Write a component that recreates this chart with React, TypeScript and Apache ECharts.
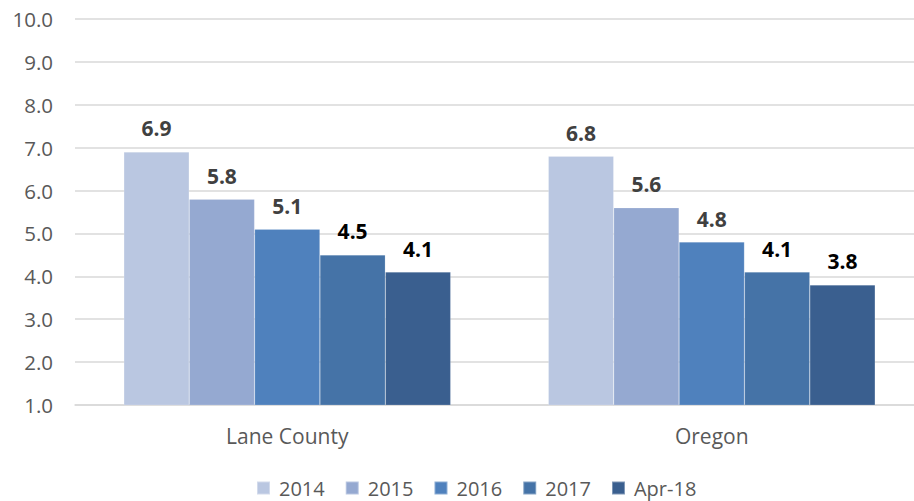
import React, { useEffect, useRef } from "react";
import * as echarts from "echarts";

const categories = ["Lane County", "Oregon"];
const seriesNames = ["2014", "2015", "2016", "2017", "Apr-18"];
const values2014 = [6.9, 6.8];
const values2015 = [5.8, 5.6];
const values2016 = [5.1, 4.8];
const values2017 = [4.5, 4.1];
const valuesApr18 = [4.1, 3.8];
const allValues = [values2014, values2015, values2016, values2017, valuesApr18];
const colors = ["#BAC7E1", "#95A9D1", "#4F81BD", "#4573A7", "#3A5F8F"];
const labelColors = ["#404040", "#404040", "#404040", "#000000", "#000000"];

const FONT = "'Open Sans', 'Noto Sans', sans-serif";

export default function App() {
  const ref = useRef<HTMLDivElement>(null);
  useEffect(() => {
    document.body.style.margin = "0";
    const chart = echarts.init(ref.current!, null, { renderer: "svg" });
    chart.setOption({
      animation: false,
      textStyle: { fontFamily: FONT },
      grid: {
        left: 75,
        width: 849,
        top: 19,
        bottom: 96,
        containLabel: false,
        outerBoundsMode: "none",
      },
      legend: {
        top: 477,
        left: 256,
        padding: 0,
        itemWidth: 13,
        itemHeight: 13,
        itemGap: 20,
        icon: "rect",
        textStyle: {
          fontFamily: FONT,
          fontSize: 20,
          lineHeight: 22,
          color: "#595959",
          padding: [0, 0, 0, 4],
        },
        data: seriesNames,
      },
      xAxis: {
        type: "category",
        data: categories,
        axisLine: { lineStyle: { color: "#D9D9D9", width: 1.5 } },
        axisTick: { show: false },
        axisLabel: { fontFamily: FONT, fontSize: 21, color: "#595959", margin: 20 },
      },
      yAxis: {
        type: "value",
        min: 1,
        max: 10,
        interval: 1,
        axisLine: { show: false },
        axisTick: { show: false },
        splitLine: { lineStyle: { color: "#D9D9D9", width: 1.5 } },
        axisLabel: {
          fontFamily: FONT,
          fontSize: 20.5,
          color: "#595959",
          margin: 22,
          formatter: (v: number) => v.toFixed(1),
        },
      },
      series: seriesNames.map((name, i) => ({
        name,
        type: "bar",
        data: allValues[i],
        barGap: "0%",
        barCategoryGap: "23%",
        itemStyle: { color: colors[i], borderColor: "rgba(255,255,255,0.35)", borderWidth: 0.5 },
        label: {
          show: true,
          position: "top",
          distance: 13,
          fontFamily: FONT,
          fontWeight: "bold",
          fontSize: 21,
          color: labelColors[i],
          formatter: (p: any) => Number(p.value).toFixed(1),
        },
      })),
    });
    return () => chart.dispose();
  }, []);
  return <div ref={ref} style={{ width: 914, height: 501 }} />;
}
